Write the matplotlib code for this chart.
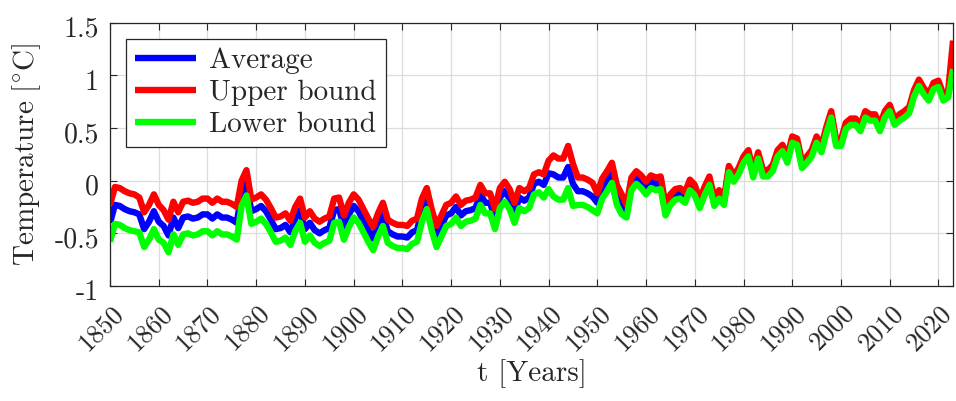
import matplotlib
matplotlib.use("Agg")
import matplotlib.pyplot as plt
import matplotlib.transforms as mtransforms

years = list(range(1850, 2024))

average = [
    -0.40, -0.23, -0.24, -0.27, -0.29, -0.30, -0.32, -0.46, -0.39, -0.29,   # 1850s
    -0.39, -0.43, -0.52, -0.35, -0.45, -0.35, -0.34, -0.36, -0.35, -0.32,   # 1860s
    -0.32, -0.36, -0.32, -0.35, -0.35, -0.37, -0.40, -0.12, -0.02, -0.29,   # 1870s
    -0.27, -0.24, -0.29, -0.37, -0.46, -0.45, -0.42, -0.49, -0.36, -0.28,   # 1880s
    -0.46, -0.40, -0.47, -0.50, -0.47, -0.45, -0.28, -0.27, -0.44, -0.32,   # 1890s
    -0.24, -0.29, -0.38, -0.47, -0.55, -0.42, -0.32, -0.48, -0.51, -0.53,   # 1900s
    -0.53, -0.54, -0.49, -0.47, -0.28, -0.17, -0.37, -0.53, -0.43, -0.33,   # 1910s
    -0.31, -0.25, -0.33, -0.29, -0.28, -0.26, -0.13, -0.21, -0.21, -0.36,   # 1920s
    -0.16, -0.10, -0.17, -0.30, -0.16, -0.19, -0.16, -0.03, -0.01, -0.04,   # 1930s
    0.07, 0.06, 0.03, 0.03, 0.13, -0.03, -0.10, -0.10, -0.12, -0.15,        # 1940s
    -0.21, -0.07, 0.00, 0.08, -0.13, -0.22, -0.29, -0.03, 0.03, -0.01,      # 1950s
    -0.07, -0.01, -0.03, -0.02, -0.28, -0.18, -0.13, -0.12, -0.16, -0.04,   # 1960s
    -0.09, -0.22, -0.10, 0.00, -0.20, -0.13, -0.20, 0.11, 0.02, 0.09,       # 1970s
    0.20, 0.26, 0.06, 0.24, 0.07, 0.07, 0.12, 0.26, 0.31, 0.20,             # 1980s
    0.39, 0.37, 0.15, 0.20, 0.26, 0.39, 0.30, 0.48, 0.63, 0.36,             # 1990s
    0.36, 0.52, 0.56, 0.56, 0.50, 0.63, 0.60, 0.60, 0.50, 0.63,             # 2000s
    0.69, 0.56, 0.60, 0.63, 0.67, 0.83, 0.93, 0.85, 0.79, 0.90,             # 2010s
    0.92, 0.79, 0.82, 1.19,                                                 # 2020s
]

upper = [
    -0.23, -0.06, -0.07, -0.10, -0.12, -0.13, -0.16, -0.30, -0.23, -0.13,
    -0.23, -0.28, -0.37, -0.20, -0.30, -0.20, -0.19, -0.21, -0.20, -0.17,
    -0.17, -0.21, -0.17, -0.20, -0.20, -0.22, -0.25, 0.00, 0.10, -0.18,
    -0.16, -0.13, -0.18, -0.26, -0.35, -0.34, -0.31, -0.38, -0.25, -0.17,
    -0.35, -0.29, -0.36, -0.39, -0.36, -0.34, -0.17, -0.16, -0.33, -0.21,
    -0.13, -0.18, -0.27, -0.36, -0.44, -0.31, -0.21, -0.37, -0.40, -0.42,
    -0.42, -0.43, -0.38, -0.36, -0.17, -0.07, -0.27, -0.43, -0.33, -0.23,
    -0.21, -0.15, -0.23, -0.19, -0.18, -0.16, -0.04, -0.12, -0.12, -0.27,
    -0.07, -0.01, -0.08, -0.21, -0.07, -0.10, -0.07, 0.06, 0.08, 0.06,
    0.19, 0.24, 0.21, 0.21, 0.33, 0.16, 0.03, 0.03, 0.01, -0.02,
    -0.12, 0.02, 0.09, 0.17, -0.04, -0.13, -0.23, 0.03, 0.09, 0.05,
    -0.01, 0.05, 0.03, 0.04, -0.23, -0.13, -0.08, -0.07, -0.11, 0.01,
    -0.04, -0.18, -0.06, 0.04, -0.16, -0.09, -0.17, 0.14, 0.05, 0.12,
    0.23, 0.29, 0.09, 0.27, 0.10, 0.10, 0.15, 0.29, 0.34, 0.23,
    0.42, 0.40, 0.18, 0.23, 0.29, 0.42, 0.33, 0.51, 0.66, 0.39,
    0.39, 0.55, 0.59, 0.59, 0.53, 0.66, 0.63, 0.63, 0.53, 0.66,
    0.72, 0.59, 0.63, 0.66, 0.70, 0.86, 0.96, 0.88, 0.82, 0.93,
    0.95, 0.82, 0.85, 1.33,
]

lower = [
    -0.58, -0.41, -0.42, -0.45, -0.47, -0.48, -0.49, -0.63, -0.56, -0.46,
    -0.56, -0.59, -0.68, -0.51, -0.61, -0.51, -0.50, -0.52, -0.51, -0.48,
    -0.48, -0.52, -0.48, -0.51, -0.51, -0.53, -0.56, -0.24, -0.14, -0.41,
    -0.39, -0.36, -0.41, -0.49, -0.58, -0.57, -0.54, -0.61, -0.48, -0.40,
    -0.58, -0.52, -0.59, -0.62, -0.59, -0.57, -0.40, -0.39, -0.56, -0.44,
    -0.35, -0.40, -0.49, -0.58, -0.66, -0.53, -0.43, -0.59, -0.62, -0.64,
    -0.64, -0.65, -0.60, -0.58, -0.39, -0.27, -0.47, -0.63, -0.53, -0.43,
    -0.41, -0.35, -0.43, -0.39, -0.38, -0.36, -0.23, -0.31, -0.31, -0.46,
    -0.26, -0.20, -0.27, -0.40, -0.26, -0.29, -0.26, -0.13, -0.11, -0.16,
    -0.08, -0.15, -0.18, -0.18, -0.07, -0.24, -0.23, -0.23, -0.25, -0.28,
    -0.31, -0.17, -0.10, -0.02, -0.23, -0.32, -0.35, -0.09, -0.03, -0.07,
    -0.13, -0.07, -0.09, -0.08, -0.33, -0.23, -0.18, -0.17, -0.21, -0.09,
    -0.14, -0.26, -0.14, -0.04, -0.24, -0.17, -0.23, 0.08, -0.01, 0.06,
    0.17, 0.23, 0.03, 0.21, 0.04, 0.04, 0.09, 0.23, 0.28, 0.17,
    0.36, 0.34, 0.12, 0.17, 0.23, 0.36, 0.27, 0.45, 0.60, 0.33,
    0.33, 0.49, 0.53, 0.53, 0.47, 0.60, 0.57, 0.57, 0.47, 0.60,
    0.66, 0.53, 0.57, 0.60, 0.64, 0.80, 0.90, 0.82, 0.76, 0.87,
    0.89, 0.76, 0.79, 1.06,
]

xticks = list(range(1850, 2021, 10))
yticks = [-1, -0.5, 0, 0.5, 1, 1.5]
ytick_labels = ["-1", "-0.5", "0", "0.5", "1", "1.5"]

plt.rcParams["font.family"] = ["cmr10", "DejaVu Serif"]
plt.rcParams["mathtext.fontset"] = "cm"
plt.rcParams["axes.unicode_minus"] = False

ink = "#262626"

fig = plt.figure(figsize=(9.56, 4.01), dpi=100)
ax = fig.add_axes([0.1151, 0.2868, 0.8818, 0.6566])

style = dict(lw=4.6, solid_joinstyle="round", solid_capstyle="butt")
ax.plot(years, average, color=(0, 0, 1), label="Average", **style)
ax.plot(years, upper, color=(1, 0, 0), label="Upper bound", **style)
ax.plot(years, lower, color=(0, 1, 0), label="Lower bound", **style)

ax.set_xlim(1850, 2023)
ax.set_ylim(-1, 1.5)

ax.set_xticks(xticks)
ax.set_xticklabels([str(t) for t in xticks], rotation=45, ha="center",
                   va="center", rotation_mode="anchor", fontsize=19)
ax.set_yticks(yticks)
ax.set_yticklabels(ytick_labels, fontsize=20)

ax.grid(True, color="#dcdcdc", lw=0.9)
ax.set_axisbelow(True)
ax.tick_params(direction="in", length=5, width=0.8, top=True, right=True,
               colors=ink, labelcolor=ink)
ax.tick_params(axis="x", pad=30)
ax.tick_params(axis="y", pad=8)
for s in ax.spines.values():
    s.set_color(ink)
    s.set_linewidth(0.9)

# nudge the slanted year labels a little to the left, the values a little down
xshift = mtransforms.ScaledTranslation(-9 / 100, 0, fig.dpi_scale_trans)
for lab in ax.get_xticklabels():
    lab.set_transform(lab.get_transform() + xshift)
yshift = mtransforms.ScaledTranslation(0, -4 / 100, fig.dpi_scale_trans)
for lab in ax.get_yticklabels():
    lab.set_transform(lab.get_transform() + yshift)

ax.set_xlabel("t [Years]", fontsize=21, color=ink, labelpad=3)
ax.set_ylabel(r"$\mathrm{Temperature}\ [^{\circ}\mathrm{C}]$", fontsize=21,
              color=ink, labelpad=8)

leg = ax.legend(loc="upper left", fontsize=21, frameon=True, fancybox=False,
                edgecolor=ink, framealpha=1, handlelength=2.1,
                handletextpad=0.45, borderaxespad=0.55, labelspacing=0.2,
                borderpad=0.3)
leg.get_frame().set_linewidth(0.9)
for t in leg.get_texts():
    t.set_color(ink)

fig.savefig("out.png", dpi=100)
